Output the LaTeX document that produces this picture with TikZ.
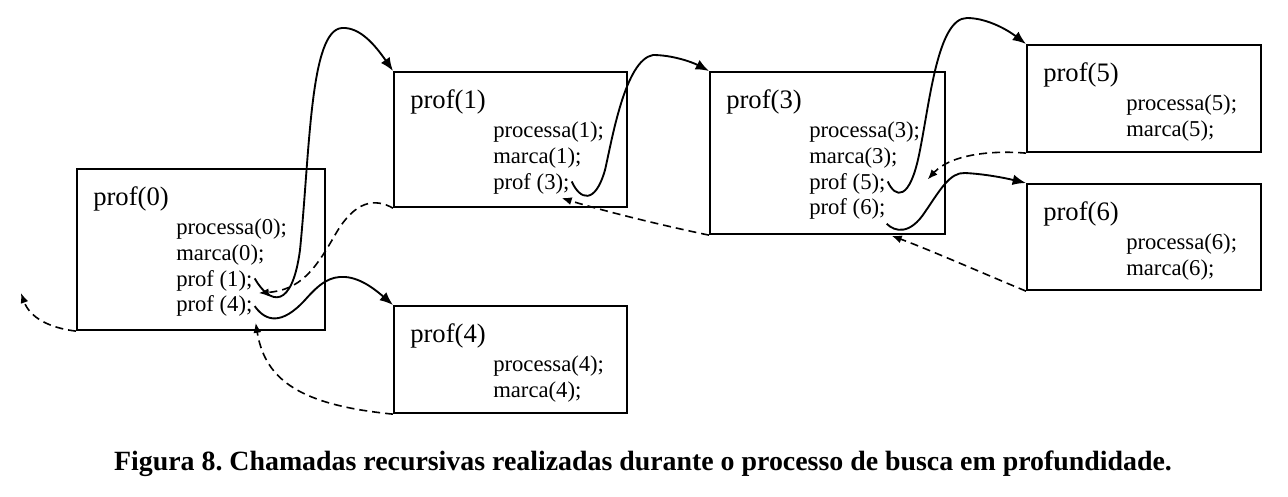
\documentclass[tikz,border=0pt]{standalone}
\usepackage{fontspec}
\setmainfont{Liberation Serif}
\usetikzlibrary{arrows.meta,calc}
\frenchspacing
\begin{document}
\begin{tikzpicture}[x=0.75pt,y=-0.75pt,
  box/.style={draw, line width=1.6pt, inner sep=0pt, anchor=north west},
  ttl/.style={inner sep=0pt, anchor=base west, font=\fontsize{20}{22}\selectfont},
  ln/.style={inner sep=0pt, anchor=base west, font=\fontsize{17}{19}\selectfont},
  call/.style={line width=1.4pt, -{Latex[length=10pt,width=8pt]}},
  ret/.style={line width=1.2pt, dash pattern=on 6pt off 3.75pt, -{Latex[length=7.5pt,width=6pt]}},
  captxt/.style={inner sep=0pt, anchor=base, font=\fontsize{20.9}{23}\selectfont\bfseries}]
\useasboundingbox (0,0) rectangle (1288,496);

% boxes
\node[box, minimum width=186pt, minimum height=120.75pt] (b0) at (76,168) {};
\node[box, minimum width=174.75pt, minimum height=101.25pt] (b1) at (393,71) {};
\node[box, minimum width=174.75pt, minimum height=80.25pt] (b4) at (393,305) {};
\node[box, minimum width=176.25pt, minimum height=121.5pt] (b3) at (709,71) {};
\node[box, minimum width=175.5pt, minimum height=80.25pt] (b5) at (1026,44) {};
\node[box, minimum width=175.5pt, minimum height=79.5pt] (b6) at (1026,183) {};

% texts prof(0)
\node[ttl] (t0) at ($(b0.north west)+(17,37)$) {prof(0)};
\node[ln] (l0a) at ($(b0.north west)+(100,66.5)$) {processa(0);};
\node[ln] (l0b) at ($(b0.north west)+(100,92.2)$) {marca(0);};
\node[ln] (l0c) at ($(b0.north west)+(100,118)$) {prof (1);};
\node[ln] (l0d) at ($(b0.north west)+(100,143.7)$) {prof (4);};
% prof(1)
\node[ttl] (t1) at ($(b1.north west)+(17,37)$) {prof(1)};
\node[ln] (l1a) at ($(b1.north west)+(100,66.5)$) {processa(1);};
\node[ln] (l1b) at ($(b1.north west)+(100,92.2)$) {marca(1);};
\node[ln] (l1c) at ($(b1.north west)+(100,118)$) {prof (3);};
% prof(4)
\node[ttl] (t4) at ($(b4.north west)+(17,37)$) {prof(4)};
\node[ln] (l4a) at ($(b4.north west)+(100,66.5)$) {processa(4);};
\node[ln] (l4b) at ($(b4.north west)+(100,92.2)$) {marca(4);};
% prof(3)
\node[ttl] (t3) at ($(b3.north west)+(17,37)$) {prof(3)};
\node[ln] (l3a) at ($(b3.north west)+(100,66.5)$) {processa(3);};
\node[ln] (l3b) at ($(b3.north west)+(100,92.2)$) {marca(3);};
\node[ln] (l3c) at ($(b3.north west)+(100,118)$) {prof (5);};
\node[ln] (l3d) at ($(b3.north west)+(100,143.7)$) {prof (6);};
% prof(5)
\node[ttl] (t5) at ($(b5.north west)+(17,37)$) {prof(5)};
\node[ln] (l5a) at ($(b5.north west)+(100,66.5)$) {processa(5);};
\node[ln] (l5b) at ($(b5.north west)+(100,92.2)$) {marca(5);};
% prof(6)
\node[ttl] (t6) at ($(b6.north west)+(17,37)$) {prof(6)};
\node[ln] (l6a) at ($(b6.north west)+(100,66.5)$) {processa(6);};
\node[ln] (l6b) at ($(b6.north west)+(100,92.2)$) {marca(6);};

% calls (solid)
\draw[call] ($(l0c.east)+(2,-2)$) .. controls (270,305) and (292,310) .. (300,250)
  .. controls (310,150) and (310,30) .. (342,28)
  .. controls (360,27) and (375,45) .. (b1.north west);
\draw[call] ($(l0d.east)+(2,0)$) .. controls (266,322) and (282,325) .. (305,300)
  .. controls (320,283) and (330,276) .. (345,277)
  .. controls (362,278) and (378,292) .. (b4.north west);
\draw[call] ($(l1c.east)+(2,-2)$) .. controls (580,200) and (595,205) .. (605,170)
  .. controls (612,140) and (625,60) .. (653,55)
  .. controls (672,55) and (692,62) .. (b3.north west);
\draw[call] ($(l3c.east)+(2,-2)$) .. controls (895,198) and (910,203) .. (920,150)
  .. controls (930,100) and (938,18) .. (967,18)
  .. controls (985,18) and (1005,28) .. (b5.north west);
\draw[call] ($(l3d.south east)+(1,4)$) .. controls (895,232) and (910,235) .. (925,212)
  .. controls (940,190) and (950,172) .. (965,173)
  .. controls (985,174) and (1005,178) .. (b6.north west);

% returns (dashed)
\coordinate (exitpt) at (21,293);
\draw[ret] (b0.south west) .. controls (50,328) and (30,318) .. (exitpt);
\draw[ret] (b1.south west) .. controls (375,198) and (355,200) .. (335,235)
  .. controls (315,270) and (300,290) .. ($(l0c.south east)+(6,2)$);
\draw[ret] (b4.south west) .. controls (300,405) and (265,380) .. ($(l0d.south east)+(3,6)$);
\draw[ret] (b3.south west) .. controls (660,225) and (600,210) .. ($(l1c.south east)+(-8,4)$);
\draw[ret] (b5.south west) .. controls (990,150) and (950,155) .. ($(l3c.east)+(42,-4)$);
\draw[ret] (b6.south west) .. controls (980,272) and (930,250) .. ($(l3d.south east)+(6,16)$);

% caption
\node[captxt] (capn) at (643,470) {Figura 8. Chamadas recursivas realizadas durante o processo de busca em profundidade.};
\end{tikzpicture}
\end{document}
